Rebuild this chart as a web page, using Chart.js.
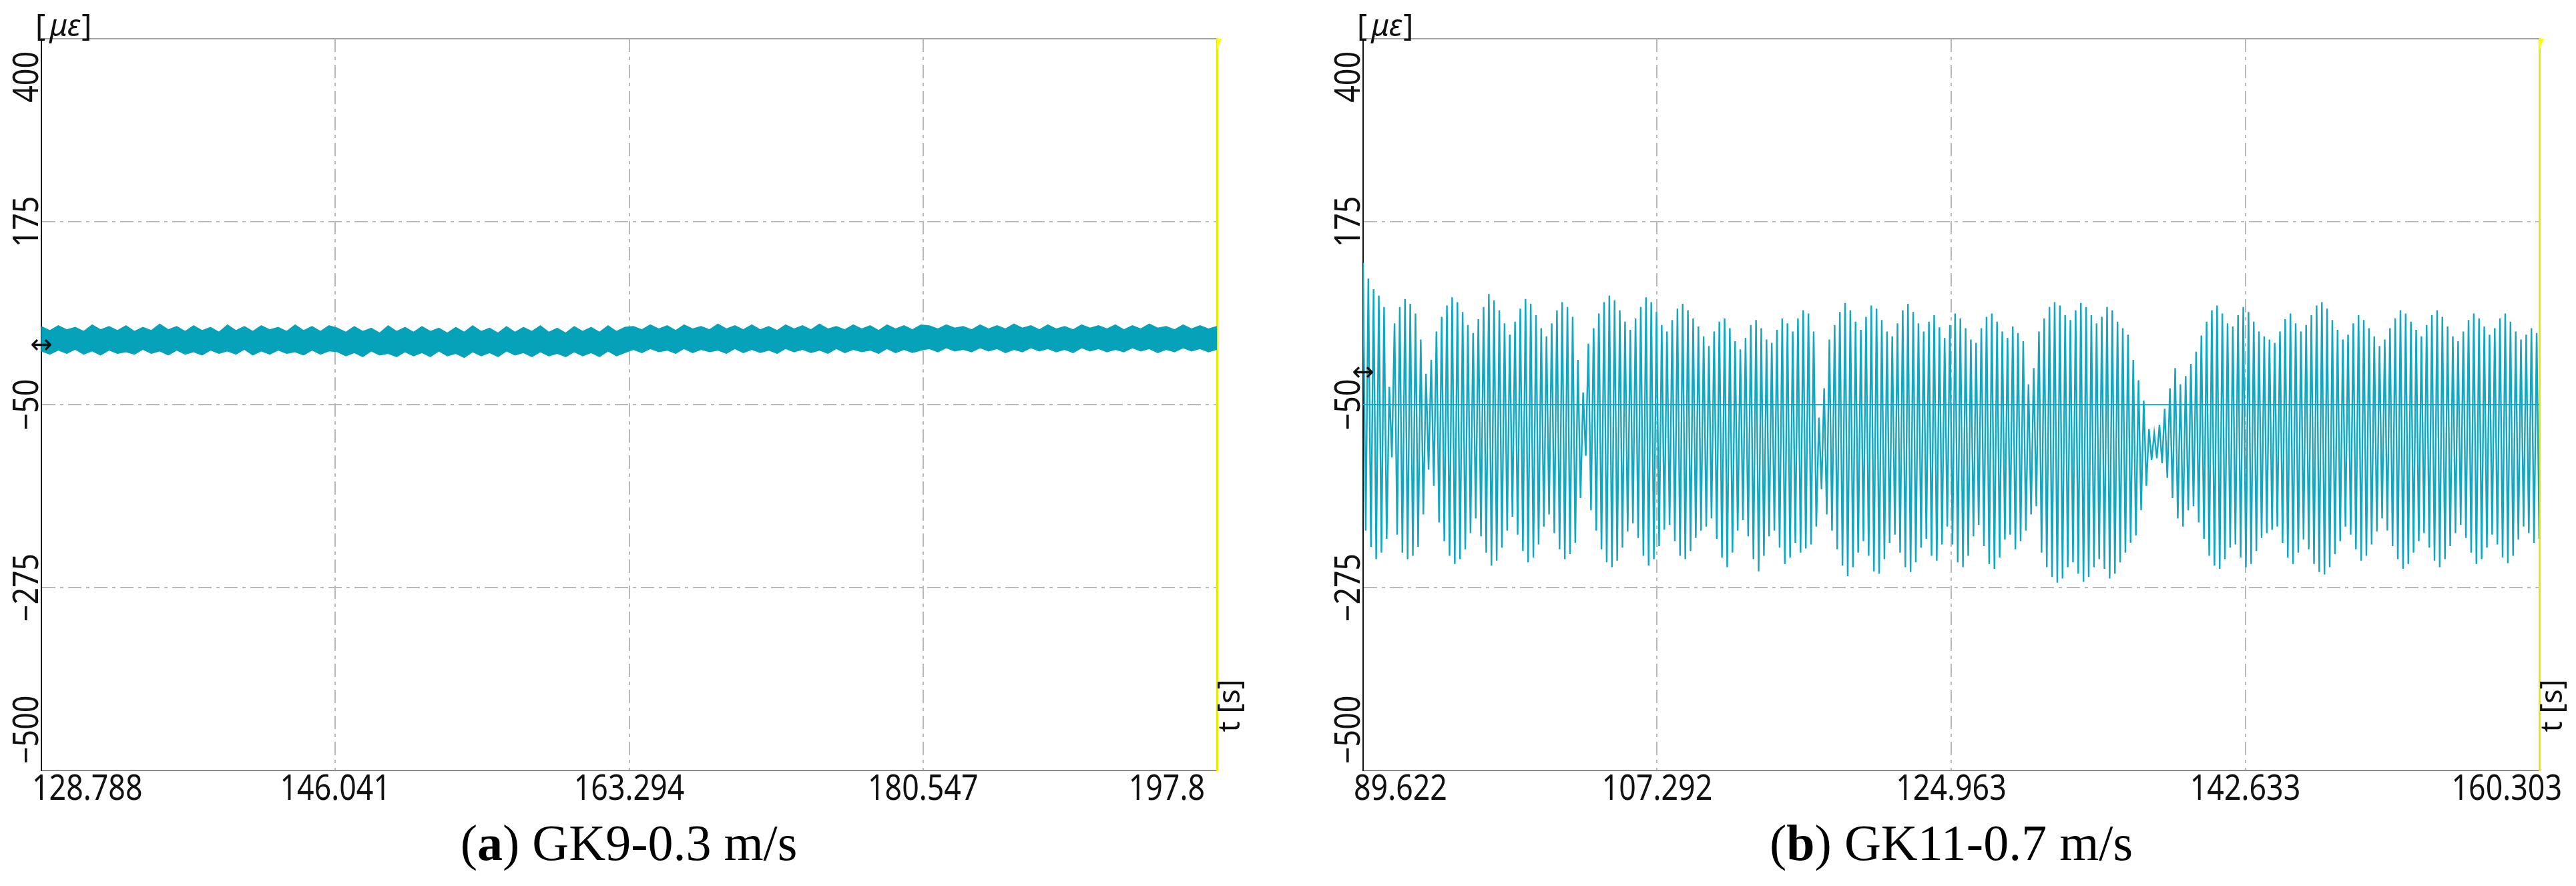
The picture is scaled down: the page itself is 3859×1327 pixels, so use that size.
<!DOCTYPE html>
<html>
<head>
<meta charset="utf-8">
<script src="https://cdn.jsdelivr.net/npm/chart.js@4.4.1/dist/chart.umd.min.js"></script>
<style>
  html, body { margin: 0; padding: 0; background: #fff; }
  body { width: 3859px; height: 1327px; position: relative; overflow: hidden; }
  canvas { position: absolute; top: 0; }
  #chartA { left: 0; }
  #chartB { left: 1930px; }
  .caption {
    position: absolute; top: 1224px;
    font-family: 'Liberation Serif', 'Times New Roman', serif;
    font-size: 76px; line-height: 1; white-space: nowrap;
    transform: translateX(-50%); color: #000;
  }
</style>
</head>
<body>
<canvas id="chartA" width="1930" height="1210"></canvas>
<canvas id="chartB" width="1929" height="1210"></canvas>
<div class="caption" style="left:942px">(<b>a</b>) GK9-0.3 m/s</div>
<div class="caption" style="left:2923px">(<b>b</b>) GK11-0.7 m/s</div>
<script>
// strain axis, shared by both panels
const yTicks = [400, 175, -50, -275, -500];

// (a) GK9-0.3 m/s : thick band, upper and lower edge of the signal
const xTicksA = [128.788, 146.041, 163.294, 180.547, 197.8];
const upperA = [
  46,41,47,42,45,40,48,42,46,41, 47,40,45,41,49,42,46,40,47,41, 45,39,48,41,46,40,47,42,45,40, 48,41,46,40,47,
  44,39,46,40,44,38,47,40,45,39, 46,40,44,38,45,39,47,40,44,38, 46,39,45,40,47,39,44,38,46,40, 45,39,47,40,45,
  46,42,48,43,47,41,48,43,46,42, 49,43,47,42,48,42,46,41,48,43, 47,42,49,43,46,42,48,43,47,41, 48,43,47,42,48,
  47,43,48,44,46,42,48,43,47,43, 49,44,47,42,48,43,46,42,48,44, 47,43,48,42,47,43,49,44,46,42, 48,43,47,43,46
];
const lowerA = [
  16,12,17,13,18,12,16,11,17,13, 15,12,18,13,16,11,17,12,15,11, 17,13,16,12,18,11,16,12,17,13, 15,11,17,12,16,
  15,10,14,9,16,11,13,9,15,10, 14,9,16,10,13,8,15,10,14,9, 16,11,14,9,15,10,13,9,15,10, 14,9,16,10,14,
  18,14,19,15,17,13,19,14,18,15, 17,13,19,14,18,14,17,13,19,15, 18,14,17,13,19,14,18,15,17,13, 19,14,18,14,17,
  19,15,20,16,18,15,20,16,19,14, 18,15,20,16,19,15,18,14,20,16, 19,15,18,15,20,16,19,14,18,15, 20,16,19,15,18
];
const markerA = 22;

// (b) GK11-0.7 m/s : oscillation, one peak and one trough per cycle
const xTicksB = [89.622, 107.292, 124.963, 142.633, 160.303];
const peaksB = [
  124,105,92,84,70, -28, 50,70,80,74,62,30, -12,5,
  40,58,72,82,76,64,48,38,55,70,86,78,66,50,36,52,68,80,74,60,44,34,50,66,76,70,58,
  5,-35,
  25,44,62,76,84,78,66,52,42,56,70,82,76,64,48,40,54,68,74,66,56,46,
  34,22,40,52,56,44,28,18,32,48,54,44,30,26,42,56,50,40,56,
  66,62,40, -66,-30,
  30,48,64,75,66,52,42,58,72,68,54,40,34,50,66,74,64,50,40,52,60,45,
  32,48,62,56,44,30,26,44,58,62,52,40,32,46,38,28,
  -25,-5,
  40,56,70,76,72,60,54,66,75,70,60,50,58,70,66,52,44,36,
  5,-20,-45,-80,-85,-75,-55,-30,-5,
  -25,-15,0,15,
  35,52,66,72,62,50,46,60,70,64,52,40,34,30,
  26,40,55,62,50,40,48,60,72,76,68,54,42,30,36,50,60,54,44,34,22,30,44,56,66,62,52,42,34,48,
  60,66,58,46,34,28,40,54,62,56,46,36,44,56,62,52,40,30,36,44,38
];
const troughsB = [
  -205,-225,-240,-232,-215, -115, -210,-232,-240,-236,-225,-185, -130,-150,
  -195,-218,-236,-246,-240,-228,-208,-190,-212,-232,-248,-242,-226,-205,-188,-210,-230,-244,-238,-222,-200,-185,-208,-228,-240,-234,-220,
  -165,-113,
  -180,-205,-228,-244,-250,-242,-226,-206,-196,-214,-236,-248,-240,-224,-204,-198,-218,-236,-240,-230,-214,-205,
  -200,-190,-215,-238,-250,-232,-205,-192,-212,-240,-255,-236,-212,-205,-226,-246,-238,-220,-232,
  -227,-222,-200, -154,-185,
  -205,-228,-248,-261,-250,-232,-218,-236,-255,-258,-240,-220,-210,-232,-250,-256,-244,-226,-215,-236,-242,-222,
  -200,-222,-244,-250,-236,-212,-198,-224,-246,-252,-238,-216,-210,-228,-218,-205,
  -185,-175,
  -232,-250,-262,-269,-264,-250,-244,-258,-268,-262,-250,-240,-252,-264,-258,-244,-232,-220,
  -211,-180,-150,-118,-116,-122,-140,-165,-190,
  -200,-180,-175,-195,
  -215,-236,-248,-252,-240,-226,-222,-238,-250,-246,-230,-214,-208,-204,
  -200,-220,-238,-246,-232,-216,-228,-246,-256,-259,-250,-234,-218,-200,-210,-228,-242,-236,-222,-206,
  -190,-205,-224,-240,-252,-246,-232,-218,-208,-226,-242,-250,-240,-224,-208,-198,-214,-232,-246,-240,
  -226,-210,-222,-238,-245,-236,-216,-200,-208,-220,-215
];
const refLevelB = -50;
const markerB = -12;

// samples evenly spaced over the recorded time span
function spread(vals, t0, t1) {
  const n = vals.length;
  return vals.map((v, i) => ({ x: t0 + (t1 - t0) * i / (n - 1), y: v }));
}

const signalB = [];
peaksB.forEach((p, i) => { signalB.push(p, troughsB[i]); });

const axisText = {
  id: 'axisText',
  afterDraw(chart, args, o) {
    const { ctx, chartArea: a, scales } = chart;
    const xs = scales.x, ys = scales.y;
    ctx.save();
    ctx.fillStyle = '#111';
    ctx.textBaseline = 'alphabetic';

    // time ticks, condensed
    ctx.font = '52px "Noto Sans"';
    o.xTicks.forEach((v, i) => {
      let px = xs.getPixelForValue(v), align = 'center';
      if (i === 0) { px -= 14; align = 'left'; }
      else if (i === o.xTicks.length - 1) { px += o.lastShift; align = 'right'; }
      ctx.save();
      ctx.translate(px, a.bottom + 44);
      ctx.scale(0.86, 1);
      ctx.textAlign = align;
      ctx.fillText(String(v), 0, 0);
      ctx.restore();
    });

    // strain ticks, rotated
    yTicks.forEach(v => {
      const label = String(v).replace('-', '\u2212');
      const w = ctx.measureText(label).width * 0.86;
      let c = ys.getPixelForValue(v);
      c = Math.min(Math.max(c, a.top + 19 + w / 2), a.bottom - 10 - w / 2);
      ctx.save();
      ctx.translate(a.left - 5, c);
      ctx.rotate(-Math.PI / 2);
      ctx.scale(0.86, 1);
      ctx.textAlign = 'center';
      ctx.fillText(label, 0, 0);
      ctx.restore();
    });

    // unit [με]
    ctx.textAlign = 'left';
    let ux = a.left - 9;
    const uy = a.top - 4;
    ctx.font = '46px "Noto Sans"';
    ctx.fillText('[', ux, uy);
    ux += ctx.measureText('[').width + 6;
    ctx.font = 'italic 46px "Noto Sans"';
    ctx.fillText('\u03bc\u03b5', ux, uy);
    ux += ctx.measureText('\u03bc\u03b5').width + 2;
    ctx.font = '46px "Noto Sans"';
    ctx.fillText(']', ux, uy);

    // t [s]
    ctx.save();
    ctx.font = '45px "Noto Sans"';
    ctx.translate(a.right + 34, a.bottom - 97);
    ctx.rotate(-Math.PI / 2);
    ctx.textAlign = 'center';
    ctx.fillText('t [s]', 0, 0);
    ctx.restore();

    // offset marker
    ctx.font = '40px "DejaVu Sans"';
    ctx.textAlign = 'center';
    ctx.textBaseline = 'middle';
    ctx.fillText('\u2194', a.left, ys.getPixelForValue(o.marker));

    // cursor flag, top right
    ctx.fillStyle = '#ffff00';
    ctx.beginPath();
    ctx.moveTo(a.right, a.top);
    ctx.lineTo(a.right + 7, a.top);
    ctx.lineTo(a.right, a.top + 17);
    ctx.closePath();
    ctx.fill();
    ctx.restore();
  }
};

function gridColor(ticks) {
  return c => {
    const v = c.tick && c.tick.value;
    return (v === ticks[0] || v === ticks[ticks.length - 1]) ? 'rgba(0,0,0,0)' : '#b9b9b9';
  };
}

function makeScales(xTicks) {
  const x0 = xTicks[0], x1 = xTicks[xTicks.length - 1];
  const dash = [20, 7, 5, 7];
  return {
    x: {
      type: 'linear', min: x0, max: x1,
      afterBuildTicks: s => { s.ticks = xTicks.map(v => ({ value: v })); },
      ticks: { display: false },
      grid: { color: gridColor(xTicks), lineWidth: 2, drawTicks: false },
      border: { color: '#8c8c8c', width: 2, dash: dash }
    },
    y: {
      type: 'linear', min: -500, max: 400,
      afterBuildTicks: s => { s.ticks = yTicks.map(v => ({ value: v })); },
      ticks: { display: false },
      grid: { color: gridColor([400, -500]), lineWidth: 2, drawTicks: false },
      border: { color: '#111', width: 2, dash: dash }
    },
    x2: {
      type: 'linear', position: 'top', min: x0, max: x1, display: true,
      ticks: { display: false },
      grid: { display: false, drawTicks: false },
      border: { color: '#a3a3a3', width: 2 }
    },
    y2: {
      type: 'linear', position: 'right', min: -500, max: 400, display: true,
      ticks: { display: false },
      grid: { display: false, drawTicks: false },
      border: { color: '#eaea00', width: 3 }
    }
  };
}

function baseOptions(xTicks, padding, lastShift, marker) {
  return {
    responsive: false,
    animation: false,
    devicePixelRatio: 1,
    layout: { padding: padding },
    elements: { point: { radius: 0 }, line: { tension: 0 } },
    scales: makeScales(xTicks),
    plugins: {
      legend: { display: false },
      tooltip: { enabled: false },
      axisText: { xTicks: xTicks, lastShift: lastShift, marker: marker }
    }
  };
}

const tA0 = xTicksA[0], tA1 = xTicksA[xTicksA.length - 1];
new Chart(document.getElementById('chartA'), {
  type: 'line',
  data: {
    datasets: [
      { label: 'upper', data: spread(upperA, tA0, tA1), borderColor: '#06a2b9',
        backgroundColor: '#06a2b9', borderWidth: 1.5, fill: '+1' },
      { label: 'lower', data: spread(lowerA, tA0, tA1), borderColor: '#06a2b9',
        borderWidth: 1.5, fill: false }
    ]
  },
  options: baseOptions(xTicksA, { left: 62, top: 58, right: 107, bottom: 56 }, -18, markerA),
  plugins: [axisText]
});

const tB0 = xTicksB[0], tB1 = xTicksB[xTicksB.length - 1];
new Chart(document.getElementById('chartB'), {
  type: 'line',
  data: {
    datasets: [
      { label: 'signal', data: spread(signalB, tB0, tB1), borderColor: '#10a7c3',
        borderWidth: 2.4, fill: false },
      { label: 'ref', data: [{ x: tB0, y: refLevelB }, { x: tB1, y: refLevelB }],
        borderColor: '#1bb5cc', borderWidth: 2, fill: false }
    ]
  },
  options: baseOptions(xTicksB, { left: 112, top: 58, right: 55, bottom: 56 }, 34, markerB),
  plugins: [axisText]
});
</script>
</body>
</html>
